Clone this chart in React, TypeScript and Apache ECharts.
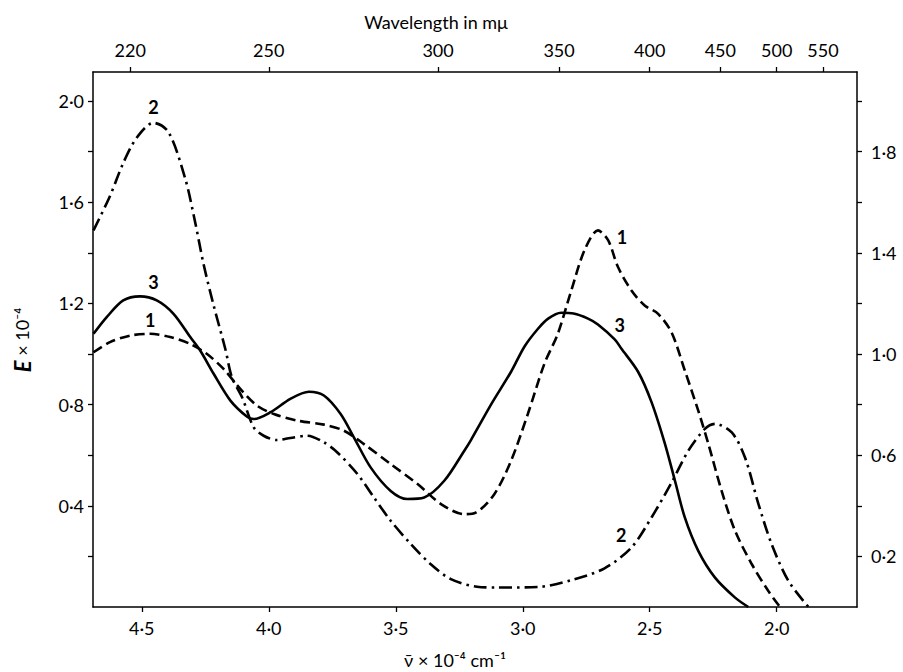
import React, { useEffect, useRef } from "react";
import * as echarts from "echarts";

// Curve 1 (dashed)
const wn1 = [4.69, 4.625, 4.546, 4.467, 4.388, 4.309, 4.243, 4.178, 4.112, 4.046, 3.98, 3.888, 3.783, 3.704, 3.625, 3.52, 3.414, 3.322, 3.23, 3.185, 3.112, 3.046, 2.98, 2.915, 2.862, 2.809, 2.757, 2.704, 2.664, 2.625, 2.572, 2.52, 2.467, 2.414, 2.362, 2.309, 2.269, 2.217, 2.164, 2.098, 2.033, 1.987];
const e1 = [1.007, 1.047, 1.073, 1.08, 1.067, 1.04, 1.0, 0.941, 0.862, 0.796, 0.763, 0.737, 0.721, 0.697, 0.644, 0.565, 0.486, 0.407, 0.367, 0.373, 0.446, 0.578, 0.763, 0.961, 1.08, 1.251, 1.41, 1.489, 1.45, 1.344, 1.251, 1.192, 1.159, 1.085, 0.935, 0.776, 0.644, 0.459, 0.301, 0.169, 0.063, 0.0];

// Curve 2 (dash-dot)
const wn2 = [4.69, 4.625, 4.573, 4.52, 4.454, 4.395, 4.329, 4.29, 4.257, 4.217, 4.171, 4.145, 4.105, 4.059, 4.02, 3.968, 3.915, 3.849, 3.783, 3.73, 3.651, 3.586, 3.52, 3.44, 3.362, 3.283, 3.18, 3.1, 2.94, 2.809, 2.678, 2.572, 2.493, 2.414, 2.348, 2.283, 2.243, 2.177, 2.125, 2.072, 2.02, 1.954, 1.875];
const e2 = [1.489, 1.625, 1.755, 1.855, 1.914, 1.878, 1.694, 1.522, 1.357, 1.192, 1.02, 0.908, 0.829, 0.71, 0.677, 0.66, 0.668, 0.677, 0.651, 0.611, 0.526, 0.433, 0.341, 0.248, 0.169, 0.11, 0.08, 0.077, 0.079, 0.106, 0.153, 0.235, 0.354, 0.492, 0.618, 0.704, 0.724, 0.69, 0.591, 0.407, 0.248, 0.103, 0.0];

// Curve 3 (solid)
const wn3 = [4.69, 4.638, 4.573, 4.507, 4.441, 4.375, 4.309, 4.27, 4.217, 4.151, 4.085, 4.059, 3.993, 3.915, 3.842, 3.783, 3.717, 3.665, 3.599, 3.52, 3.454, 3.388, 3.309, 3.23, 3.204, 3.125, 3.046, 2.993, 2.94, 2.9, 2.849, 2.8, 2.743, 2.704, 2.638, 2.612, 2.546, 2.493, 2.441, 2.401, 2.362, 2.309, 2.243, 2.164, 2.112];
const e3 = [1.08, 1.146, 1.212, 1.228, 1.212, 1.159, 1.067, 1.014, 0.922, 0.816, 0.752, 0.743, 0.77, 0.823, 0.851, 0.836, 0.763, 0.671, 0.552, 0.459, 0.427, 0.433, 0.499, 0.618, 0.66, 0.8, 0.93, 1.03, 1.1, 1.14, 1.163, 1.16, 1.14, 1.117, 1.058, 1.022, 0.93, 0.81, 0.648, 0.5, 0.354, 0.222, 0.116, 0.037, 0.0];

// Curve number labels
const tagText = ["2", "3", "1", "1", "3", "2"];
const tagWn = [4.454, 4.454, 4.467, 2.609, 2.618, 2.612];
const tagE = [1.977, 1.284, 1.133, 1.463, 1.113, 0.285];

// Axes
const bottomTicks = [4.5, 4.0, 3.5, 3.0, 2.5, 2.0];
const wavelengths = [220, 250, 300, 350, 400, 450, 500, 550]; // mμ
const yTicks = [0.2, 0.4, 0.6, 0.8, 1.0, 1.2, 1.4, 1.6, 1.8, 2.0];
const leftLabels = [0.4, 0.8, 1.2, 1.6, 2.0];
const rightLabels = [0.2, 0.6, 1.0, 1.4, 1.8];

const X_MIN = 1.684;
const X_MAX = 4.692;
const Y_MIN = 0;
const Y_MAX = 2.115;

const FONT = "Lato, 'Open Sans', sans-serif";
const INK = "#000";

const dec = (v: number) => v.toFixed(1).replace(".", "·");
const pairs = (xs: number[], ys: number[]) => xs.map((x, i) => [x, ys[i]]);

export default function App() {
  const ref = useRef<HTMLDivElement>(null);
  useEffect(() => {
    if (!ref.current) return;
    const chart = echarts.init(ref.current, undefined, { renderer: "svg" });
    const axisLine = { show: true, onZero: false, lineStyle: { color: INK, width: 1.5 } };
    const tickStyle = { color: INK, width: 1.3 };
    const yAxisBase = {
      type: "value",
      min: Y_MIN,
      max: Y_MAX,
      axisLine,
      splitLine: { show: false },
      axisTick: { show: true, length: 5, customValues: yTicks, lineStyle: tickStyle },
    };
    const labelBase = { color: INK, fontSize: 18, fontFamily: FONT };
    // wavenumber (10^4 cm^-1) of each wavelength (mμ = nm)
    const wlPos = wavelengths.map((l) => 1000 / l);
    chart.setOption({
      animation: false,
      backgroundColor: "#fff",
      textStyle: { fontFamily: FONT },
      grid: { left: 93, right: 46, top: 72, bottom: 65 },
      xAxis: [
        {
          type: "value",
          position: "bottom",
          min: X_MIN,
          max: X_MAX,
          inverse: true,
          axisLine,
          splitLine: { show: false },
          axisTick: { show: true, length: 5, customValues: bottomTicks, lineStyle: tickStyle },
          axisLabel: {
            ...labelBase,
            customValues: bottomTicks,
            formatter: (v: number) => dec(v),
            margin: 12,
          },
        },
        {
          type: "value",
          position: "top",
          min: X_MIN,
          max: X_MAX,
          inverse: true,
          axisLine,
          splitLine: { show: false },
          axisTick: { show: true, length: 5, customValues: wlPos, lineStyle: tickStyle },
          axisLabel: {
            ...labelBase,
            customValues: wlPos,
            formatter: (v: number) => String(Math.round(1000 / v)),
            margin: 13,
          },
        },
      ],
      yAxis: [
        {
          ...yAxisBase,
          position: "left",
          axisLabel: {
            ...labelBase,
            customValues: leftLabels,
            formatter: (v: number) => dec(v),
            margin: 9,
          },
        },
        {
          ...yAxisBase,
          position: "right",
          axisLabel: {
            ...labelBase,
            customValues: rightLabels,
            formatter: (v: number) => dec(v),
            margin: 14,
          },
        },
      ],
      graphic: [
        {
          type: "text",
          x: 436,
          y: 22,
          style: {
            text: "Wavelength in mμ",
            fontSize: 18,
            fontFamily: FONT,
            fill: INK,
            align: "center",
            verticalAlign: "middle",
          },
        },
        {
          type: "text",
          x: 455,
          y: 660,
          style: {
            text: "ν̄ × 10⁻⁴ cm⁻¹",
            fontSize: 18,
            fontFamily: FONT,
            fill: INK,
            align: "center",
            verticalAlign: "middle",
          },
        },
        {
          type: "text",
          x: 22,
          y: 340,
          rotation: Math.PI / 2,
          style: {
            text: "{i|E} × 10⁻⁴",
            fontSize: 18,
            fontFamily: FONT,
            fill: INK,
            align: "center",
            verticalAlign: "middle",
            rich: {
              i: { fontSize: 22, fontStyle: "italic", fontWeight: "bold", fontFamily: FONT, fill: INK },
            },
          },
        },
      ],
      series: [
        {
          name: "1",
          type: "line",
          data: pairs(wn1, e1),
          smooth: 0.3,
          showSymbol: false,
          lineStyle: { color: INK, width: 2.6, type: [10, 5] },
        },
        {
          name: "2",
          type: "line",
          data: pairs(wn2, e2),
          smooth: 0.3,
          showSymbol: false,
          lineStyle: { color: INK, width: 2.6, type: [13, 5, 2.5, 5] },
        },
        {
          name: "3",
          type: "line",
          data: pairs(wn3, e3),
          smooth: 0.3,
          showSymbol: false,
          lineStyle: { color: INK, width: 2.6, type: "solid" },
        },
        {
          name: "tags",
          type: "scatter",
          symbolSize: 0,
          itemStyle: { opacity: 1, color: INK },
          data: tagWn.map((x, i) => [x, tagE[i], tagText[i]]),
          label: {
            show: true,
            position: "inside",
            formatter: (p: any) => p.value[2],
            color: INK,
            opacity: 1,
            fontSize: 18,
            fontWeight: "bold",
            fontFamily: FONT,
          },
        },
      ],
    });
    return () => chart.dispose();
  }, []);
  return (
    <div
      ref={ref}
      style={{ position: "fixed", left: 0, top: 0, width: 903, height: 672, background: "#fff" }}
    />
  );
}
